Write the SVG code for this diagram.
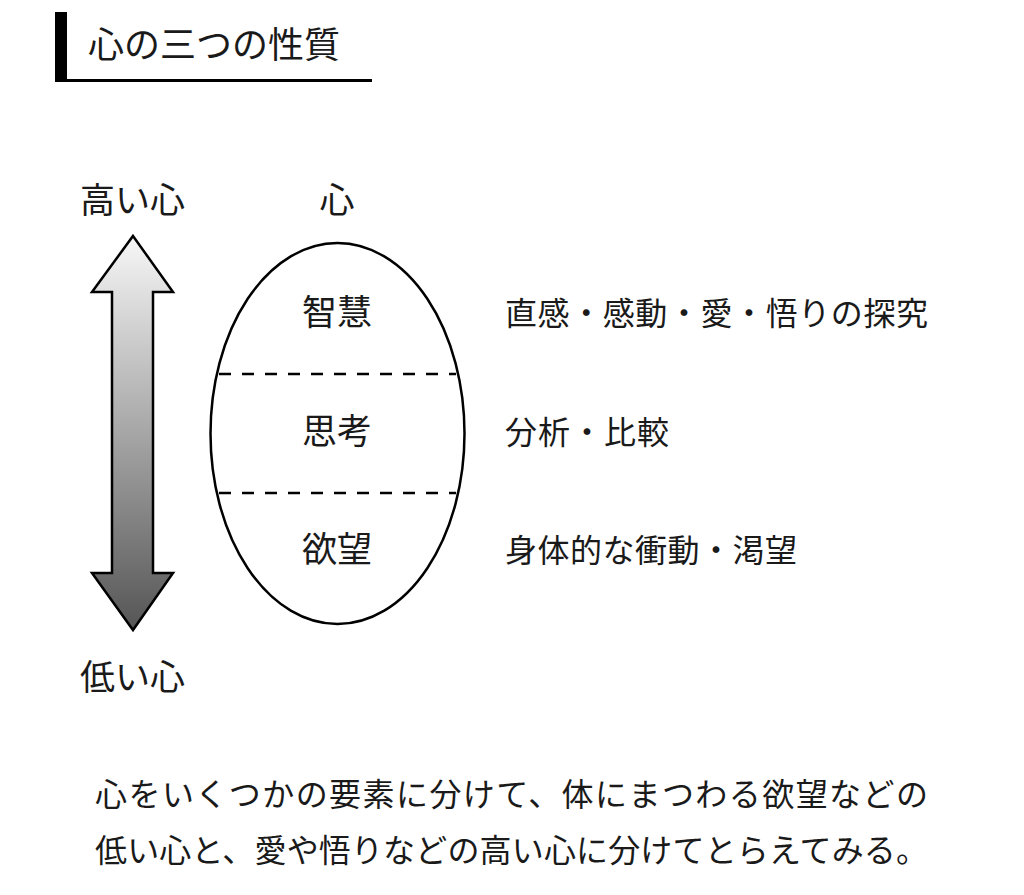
<svg xmlns="http://www.w3.org/2000/svg" width="1024" height="895" viewBox="0 0 1024 895">
  <style>
    text { font-family: "Noto Sans CJK JP", "Noto Sans", sans-serif; fill: #1a1a1a; }
    .t32 { font-size: 32px; }
    .t35 { font-size: 35px; }
    .mid { text-anchor: middle; }
    .outline { fill: none; stroke: #000; stroke-width: 2.5; }
    .dash { stroke: #000; stroke-width: 2.5; stroke-dasharray: 12 11; }
  </style>
  <defs>
    <linearGradient id="arrowGrad" x1="0" y1="236" x2="0" y2="630" gradientUnits="userSpaceOnUse">
      <stop offset="0" stop-color="#f7f7f7"/>
      <stop offset="1" stop-color="#555555"/>
    </linearGradient>
  </defs>
  <rect width="1024" height="895" fill="#ffffff"/>

  <g id="title">
    <rect x="55" y="12" width="12" height="70" fill="#000"/>
    <rect x="55" y="79" width="317" height="3" fill="#000"/>
    <text x="88" y="58" font-size="36px">心の三つの性質</text>
  </g>

  <g id="scale">
    <text class="t35" x="80" y="213">高い心</text>
    <text class="t35" x="80" y="690">低い心</text>
    <polygon points="133,236 173,292 153,292 153,573 173,573 133,630 92,573 112,573 112,292 92,292" fill="url(#arrowGrad)" stroke="#000" stroke-width="2.5" stroke-linejoin="miter"/>
  </g>

  <g id="mind">
    <text class="t35 mid" x="337" y="213">心</text>
    <ellipse class="outline" cx="337.5" cy="433.5" rx="127" ry="190.5" fill="#fff"/>
  </g>

  <g id="connectors">
    <line class="dash" x1="219" y1="374" x2="456" y2="374"/>
    <line class="dash" x1="219" y1="493" x2="456" y2="493"/>
  </g>

  <g id="wisdom">
    <text class="t35 mid" x="337" y="325">智慧</text>
    <text class="t32" x="505" y="325" textLength="423" lengthAdjust="spacing">直感・感動・愛・悟りの探究</text>
  </g>
  <g id="thought">
    <text class="t35 mid" x="337" y="444">思考</text>
    <text class="t32" x="505" y="444" textLength="164" lengthAdjust="spacing">分析・比較</text>
  </g>
  <g id="desire">
    <text class="t35 mid" x="337" y="562">欲望</text>
    <text class="t32" x="505" y="562" textLength="292" lengthAdjust="spacing">身体的な衝動・渇望</text>
  </g>

  <g id="caption">
    <text class="t32" x="95" y="806" textLength="833" lengthAdjust="spacing">心をいくつかの要素に分けて、体にまつわる欲望などの</text>
    <text class="t32" x="95" y="862" textLength="833" lengthAdjust="spacing">低い心と、愛や悟りなどの高い心に分けてとらえてみる。</text>
  </g>
</svg>
